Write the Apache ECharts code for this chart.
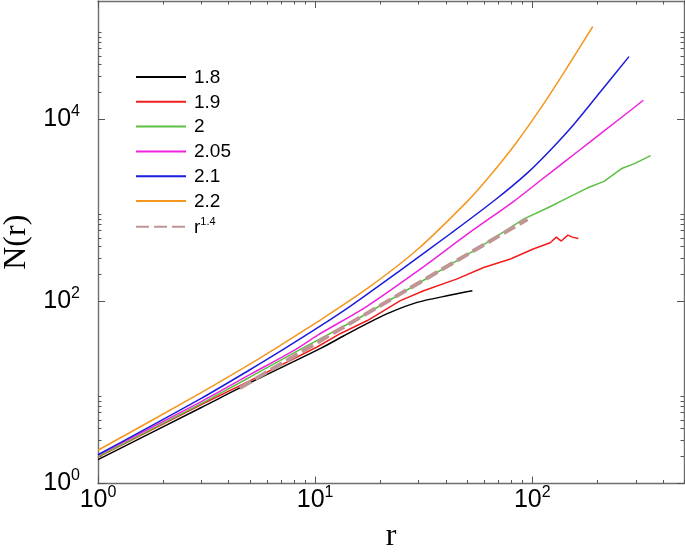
<!DOCTYPE html>
<html>
<head>
<meta charset="utf-8">
<script src="https://cdn.jsdelivr.net/npm/echarts@6/dist/echarts.min.js"></script>
<style>
html, body { margin: 0; padding: 0; background: #fff; }
#chart { width: 685px; height: 554px; }
</style>
</head>
<body>
<div id="chart"></div>
<script>
// r and N(r) for each exponent
var r18 = [1, 2.96, 5.05, 10.6, 13.5, 17.4, 22.2, 29.5, 42.1, 53];
var n18 = [1.83, 6.76, 12.9, 30.5, 41.7, 57.5, 75.9, 97.7, 117.5, 131];

var r19 = [1, 2.96, 5.05, 10.2, 13.1, 17.4, 24.7, 31.6, 45.1, 59.7, 79.4, 101, 121, 129, 136, 146, 153, 163];
var n19 = [1.95, 7.28, 13.6, 31.6, 44.5, 61.7, 102, 131, 177, 236, 293, 377, 442, 509, 461, 536, 509, 491];

var r20 = [1, 2.96, 5.05, 8.55, 15.8, 31.6, 56.2, 91.2, 122, 135, 179, 214, 260, 294, 351];
var n20 = [1.97, 7.46, 14.9, 29.8, 65.0, 171, 383, 802, 1112, 1259, 1762, 2084, 2911, 3251, 4009];

var r205 = [1, 2.96, 5.05, 7.96, 10.2, 17.4, 29.5, 50.1, 82.2, 109, 145, 186, 247, 325];
var n205 = [2.05, 7.85, 15.9, 28.8, 42.2, 89.1, 214, 546, 1259, 2133, 3614, 5741, 9727, 16255];

var r21 = [1, 2.96, 5.05, 7.29, 10.2, 14.6, 24.7, 42.1, 67.8, 94.8, 122, 156, 207, 279];
var n21 = [2.07, 8.51, 18.0, 30.7, 50.8, 89.5, 220, 558, 1318, 2570, 4677, 8913, 20417, 48978];

var r22 = [1, 2.96, 5.05, 6.22, 10.2, 17.4, 29.5, 50.1, 64.3, 85.3, 113, 145, 190];
var n22 = [2.32, 9.82, 20.7, 28.1, 59.2, 139, 370, 1250, 2449, 5728, 14894, 37411, 104954];

// r^1.4 guide line, two end points
var rFit = [4.5, 95];
var nFit = [11.2, 801];

var xMajor = [1, 10, 100];
var xMinor = [2, 3, 4, 5, 6, 7, 8, 9, 20, 30, 40, 50, 60, 70, 80, 90, 200, 300, 400, 500];
var yMajor = [1, 100, 10000];
var yMinor = [2, 3, 4, 5, 6, 7, 8, 9, 200, 300, 400, 500, 600, 700, 800, 900,
  20000, 30000, 40000, 50000, 60000, 70000, 80000, 90000];

function pairs(xs, ys) {
  return xs.map(function (x, i) { return [x, ys[i]]; });
}

var labelFont = 'Liberation Sans, Arial, sans-serif';
var tickLabel = {
  fontFamily: labelFont,
  color: '#000',
  formatter: function (v) {
    var e = Math.round(Math.log(v) / Math.LN10);
    return '{b|10}{s|' + e + '}';
  },
  rich: {
    b: { fontSize: 25, lineHeight: 25, fontFamily: labelFont, color: '#000', verticalAlign: 'bottom' },
    s: { fontSize: 16, lineHeight: 16, fontFamily: labelFont, color: '#000', verticalAlign: 'bottom', padding: [0, 0, 12, 0] }
  }
};

function makeAxis(dim, pos, ticks, len, showLine, labels) {
  var ax = {
    type: 'log',
    logBase: 10,
    min: 1,
    max: dim === 'x' ? 500 : 200000,
    position: pos,
    axisLine: { show: showLine, onZero: false, lineStyle: { color: '#6e6e6e', width: 1.4 } },
    axisTick: { show: true, inside: true, length: len, customValues: ticks,
      lineStyle: { color: '#555', width: 1 } },
    axisLabel: { show: false },
    splitLine: { show: false },
    minorTick: { show: false },
    minorSplitLine: { show: false }
  };
  if (labels) {
    ax.axisLabel = Object.assign({ show: true }, tickLabel);
    if (dim === 'x') {
      ax.axisLabel.customValues = xMajor;
      ax.axisLabel.margin = 4;
      ax.name = 'r';
      ax.nameLocation = 'middle';
      ax.nameGap = 37;
    } else {
      ax.axisLabel.customValues = yMajor;
      ax.axisLabel.margin = 18;
      ax.name = 'N(r)';
      ax.nameLocation = 'middle';
      ax.nameRotate = 90;
      ax.nameGap = 56;
    }
    ax.nameTextStyle = { fontFamily: 'Liberation Serif, Times New Roman, serif', fontSize: 32, color: '#000' };
  }
  return ax;
}

function lineSeries(name, data, color, smooth) {
  return {
    name: name,
    type: 'line',
    data: data,
    symbol: 'none',
    smooth: smooth,
    lineStyle: { color: color, width: 1.5 },
    itemStyle: { color: color },
    z: 2
  };
}

var chart = echarts.init(document.getElementById('chart'), null, { renderer: 'canvas' });

chart.setOption({
  animation: false,
  backgroundColor: '#fff',
  grid: { left: 98, right: 1, top: 1, bottom: 70.5, containLabel: false, outerBoundsMode: 'none' },
  xAxis: [
    makeAxis('x', 'bottom', xMajor, 7, true, true),
    makeAxis('x', 'bottom', xMinor, 3.5, false, false),
    makeAxis('x', 'top', xMajor, 7, true, false),
    makeAxis('x', 'top', xMinor, 3.5, false, false)
  ],
  yAxis: [
    makeAxis('y', 'left', yMajor, 7, true, true),
    makeAxis('y', 'left', yMinor, 3.5, false, false),
    makeAxis('y', 'right', yMajor, 7, true, false),
    makeAxis('y', 'right', yMinor, 3.5, false, false)
  ],
  legend: {
    orient: 'vertical',
    left: 135,
    top: 68,
    padding: 0,
    itemWidth: 50,
    itemHeight: 20,
    itemGap: 5.8,
    itemStyle: { opacity: 0, borderWidth: 0 },
    data: ['1.8', '1.9', '2', '2.05', '2.1', '2.2', 'r^1.4'],
    formatter: function (name) {
      return name === 'r^1.4' ? '{t|r}{sup|1.4}' : '{t|' + name + '}';
    },
    textStyle: {
      fontFamily: labelFont,
      fontSize: 19,
      color: '#000',
      padding: [0, 0, 0, 3],
      rich: {
        t: { fontSize: 19, lineHeight: 20, fontFamily: labelFont, color: '#000', verticalAlign: 'bottom' },
        sup: { fontSize: 11, lineHeight: 11, fontFamily: labelFont, color: '#000', verticalAlign: 'bottom', padding: [0, 0, 9, 0] }
      }
    }
  },
  series: [
    lineSeries('1.8', pairs(r18, n18), '#000000', 0.3),
    lineSeries('1.9', pairs(r19, n19), '#f21c1c', false),
    lineSeries('2', pairs(r20, n20), '#5cbf43', false),
    lineSeries('2.05', pairs(r205, n205), '#ee22dd', 0.3),
    lineSeries('2.1', pairs(r21, n21), '#1c1cdc', 0.3),
    lineSeries('2.2', pairs(r22, n22), '#f5961e', 0.3),
    {
      name: 'r^1.4',
      type: 'line',
      data: pairs(rFit, nFit),
      symbol: 'none',
      lineStyle: { color: '#bf9595', width: 4, type: [13, 5] },
      itemStyle: { color: '#bf9595' },
      z: 3
    }
  ]
});
</script>
</body>
</html>
